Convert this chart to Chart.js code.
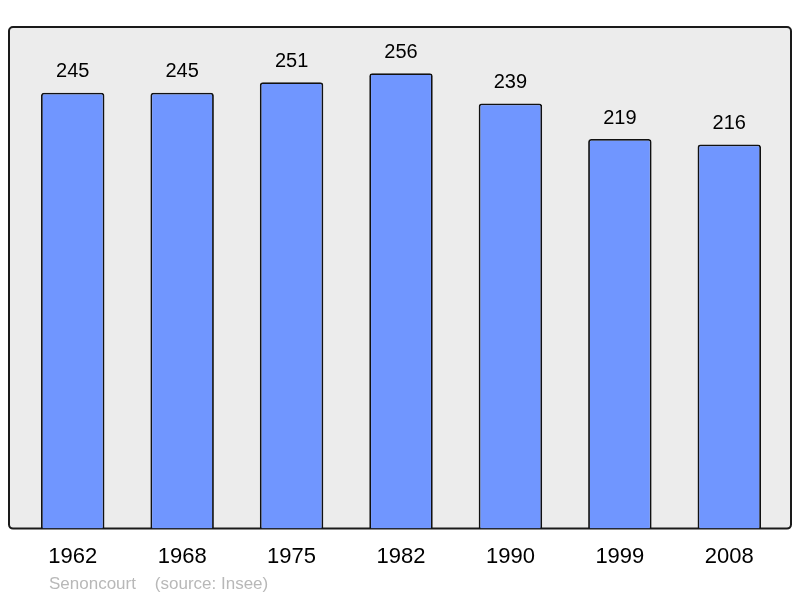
<!DOCTYPE html>
<html>
<head>
<meta charset="utf-8">
<script src="https://cdn.jsdelivr.net/npm/chart.js@4/dist/chart.umd.min.js"></script>
<style>
    body { margin: 0; background: #fff; }
    #wrap { width: 800px; height: 598px; position: relative; }
</style>
</head>
<body>
<div id="wrap"><canvas id="popchart" width="800" height="598"></canvas></div>
<script>
var years = ['1962', '1968', '1975', '1982', '1990', '1999', '2008'];
var population = [245, 245, 251, 256, 239, 219, 216];
var footerText = 'Senoncourt    (source: Insee)';

// grey panel with dark border behind the bars
var panelBox = {
    id: 'panelBox',
    beforeDraw: function (chart) {
        var ctx = chart.ctx, a = chart.chartArea;
        var x = a.left - 9, y = a.top, w = (a.right + 7) - x, h = a.bottom - a.top;
        ctx.save();
        ctx.beginPath();
        ctx.roundRect(x, y, w, h, 4);
        ctx.fillStyle = '#ececec';
        ctx.fill();
        ctx.lineWidth = 2;
        ctx.strokeStyle = '#1a1a1a';
        ctx.stroke();
        ctx.restore();
    }
};

// value above each bar + footer line
var barValues = {
    id: 'barValues',
    afterDatasetsDraw: function (chart) {
        var ctx = chart.ctx;
        var meta = chart.getDatasetMeta(0);
        ctx.save();
        ctx.font = '20px "Liberation Sans", Arial, sans-serif';
        ctx.fillStyle = '#000';
        ctx.textAlign = 'center';
        ctx.textBaseline = 'middle';
        meta.data.forEach(function (bar, i) {
            ctx.fillText(population[i], bar.x, bar.y - 21);
        });
        ctx.font = '17px "Liberation Sans", Arial, sans-serif';
        ctx.fillStyle = '#b8b8b8';
        ctx.textAlign = 'left';
        ctx.fillText(footerText, 49, 584);
        ctx.restore();
    }
};

var ctxp = document.getElementById('popchart');
var popChart = new Chart(ctxp, {
    type: 'bar',
    data: {
        labels: years,
        datasets: [{
            data: population,
            backgroundColor: '#7096ff',
            borderColor: '#111',
            borderWidth: 1.8,
            borderRadius: { topLeft: 3, topRight: 3 },
            borderSkipped: 'bottom',
            barPercentage: 0.58,
            categoryPercentage: 1
        }]
    },
    options: {
        responsive: false,
        animation: false,
        layout: { padding: { left: 18, right: 16, top: 27, bottom: 13 } },
        plugins: { legend: { display: false }, tooltip: { enabled: false } },
        scales: {
            x: {
                grid: { display: false, drawTicks: false },
                border: { display: false },
                ticks: {
                    color: '#000',
                    padding: 15,
                    font: { family: '"Liberation Sans", Arial, sans-serif', size: 22 }
                }
            },
            y: {
                display: false,
                min: 0,
                max: 282
            }
        }
    },
    plugins: [panelBox, barValues]
});
</script>
</body>
</html>
